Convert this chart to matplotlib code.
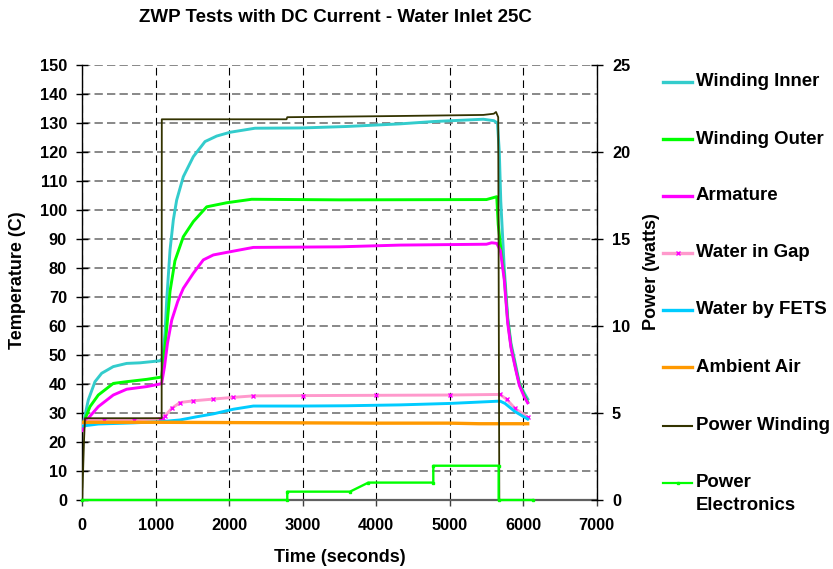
import matplotlib
matplotlib.use('Agg')
import matplotlib.pyplot as plt
from matplotlib.lines import Line2D

# ---------------- data ----------------
t_inner = [0, 15, 83, 174, 265, 423, 605, 786, 1058, 1095, 1127, 1150, 1195, 1240, 1285,
           1376, 1512, 1671, 1830, 2011, 2351, 3000, 3600, 4324, 4777, 5457, 5600, 5650,
           5675, 5695, 5742, 5789, 5834, 5902, 5948, 6016, 6061]
T_inner = [25, 26.4, 34.5, 40.8, 43.7, 46, 47.1, 47.3, 48, 49, 57.5, 69, 86.2, 96.6, 103.4,
           111.5, 118.4, 123.6, 125.5, 126.8, 128.2, 128.3, 128.8, 129.7, 130.5, 131.3, 130.8, 130,
           120, 103, 80, 63, 54, 46, 40.3, 36.8, 34.8]

t_outer = [0, 15, 106, 219, 423, 605, 877, 1058, 1080, 1110, 1135, 1195, 1262, 1376, 1512,
           1694, 1966, 2306, 3500, 5500, 5600, 5640, 5660, 5690, 5742, 5789, 5834, 5902,
           5948, 6016, 6061]
T_outer = [25, 26.4, 32.2, 36.2, 40.2, 40.8, 41.6, 42.3, 42.5, 49, 55, 72, 82.5, 90.8, 96,
           101.1, 102.5, 103.7, 103.5, 103.6, 104.3, 104.6, 95, 88, 77, 62, 53, 45,
           40, 36, 33.8]

t_arm = [0, 83, 219, 423, 605, 877, 1058, 1081, 1120, 1160, 1218, 1300, 1376, 1512, 1648,
         1784, 2011, 2328, 3500, 4324, 5500, 5571, 5640, 5690, 5742, 5789, 5834, 5902,
         5948, 6016, 6061]
T_arm = [24, 28.2, 32.2, 36.2, 38.2, 39.1, 40, 40.2, 46, 54, 62, 68.5, 73, 78.2, 82.8,
         84.5, 85.6, 87.1, 87.3, 87.9, 88.2, 88.7, 88.5, 86, 76, 61, 52.5, 44.5,
         39.5, 35.5, 33.5]

t_gap = [0, 40, 300, 700, 1058, 1100, 1127, 1218, 1330, 1512, 1784, 2056, 2328, 3000,
         4000, 5000, 5685, 5775, 5888, 6061]
T_gap = [25, 27.5, 27.6, 27.7, 28, 28.3, 29, 31.6, 33.6, 34.2, 34.8, 35.4, 35.9, 36,
         36.1, 36.2, 36.4, 34.7, 31.6, 28.5]

t_fets = [0, 220, 700, 1058, 1330, 1558, 1784, 2056, 2328, 3000, 3600, 4324, 5004, 5685,
          5752, 5888, 6061]
T_fets = [25.5, 26.2, 26.6, 27.0, 27.6, 28.7, 29.7, 31.3, 32.4, 32.4, 32.5, 32.8, 33.3, 34.1,
          33.3, 30.5, 27.9]

t_amb = [0, 1000, 2000, 3000, 4000, 5000, 5400, 6061]
T_amb = [26.8, 26.8, 26.7, 26.6, 26.5, 26.5, 26.3, 26.3]

t_pw = [0, 25, 38, 1081, 1083, 2780, 2790, 4324, 5457, 5600, 5630, 5660, 5675]
P_pw = [0, 3.45, 4.7, 4.7, 21.88, 21.88, 22.0, 22.07, 22.13, 22.2, 22.3, 22.0, 0]

t_pe = [0, 2790, 2790, 3644, 3893, 4777, 4777, 5666, 5666, 6130]
P_pe = [0, 0, 0.48, 0.48, 1.0, 1.0, 1.97, 1.97, 0, 0]

title = "ZWP Tests with DC Current - Water Inlet 25C"
x_ticks = [0, 1000, 2000, 3000, 4000, 5000, 6000, 7000]
y_ticks = list(range(0, 151, 10))
y2_ticks = [0, 5, 10, 15, 20, 25]
labels = ["Winding Inner", "Winding Outer", "Armature", "Water in Gap", "Water by FETS",
          "Ambient Air", "Power Winding", "Power\nElectronics"]
colors = ["#33CCCC", "#00FF00", "#FF00FF", "#FF99CC", "#00CCFF", "#FF9900", "#333300", "#00FF00"]

# ---------------- figure ----------------
plt.rcParams['font.family'] = ['Liberation Sans', 'DejaVu Sans']
plt.rcParams['font.weight'] = 'bold'
plt.rcParams['lines.scale_dashes'] = False

W, H = 833, 569
fig = plt.figure(figsize=(W / 100, H / 100), dpi=100)
L, R, T, B = 82.2, 596.7, 65, 500
ax = fig.add_axes([L / W, 1 - B / H, (R - L) / W, (B - T) / H])
ax2 = ax.twinx()

ax.set_xlim(0, 7000)
ax.set_ylim(0, 150)
ax2.set_ylim(0, 25)

# grid
ax.set_axisbelow(True)
ax.yaxis.grid(True, color='#7F7F7F', linestyle=(0, (6, 3)), linewidth=1.3)
ax.xaxis.grid(True, color='black', linestyle=(0, (5.5, 3.5)), linewidth=0.8)

lw = 2.1
ax.plot(t_inner, T_inner, color=colors[0], lw=lw, zorder=3)
ax.plot(t_outer, T_outer, color=colors[1], lw=lw, zorder=3)
ax.plot(t_arm, T_arm, color=colors[2], lw=lw, zorder=3)
ax.plot(t_gap, T_gap, color=colors[3], lw=lw, zorder=3, marker='x', ms=2.5,
        mec='#FF00FF', mew=1.0)
ax.plot(t_fets, T_fets, color=colors[4], lw=lw, zorder=3)
ax.plot(t_amb, T_amb, color=colors[5], lw=2.4, zorder=3)

ax2.plot(t_pw, P_pw, color=colors[6], lw=1.3, zorder=3)
ax2.plot(t_pe, P_pe, color=colors[7], lw=1.7, zorder=3, marker='s', ms=2.0,
         mec=colors[7], clip_on=False)

# spines
for s in ['top']:
    ax.spines[s].set_visible(False)
    ax2.spines[s].set_visible(False)
ax2.spines['bottom'].set_visible(False)
ax2.spines['left'].set_visible(False)
ax.spines['right'].set_visible(False)
ax.spines['left'].set_color('black')
ax.spines['left'].set_linewidth(1.0)
ax2.spines['right'].set_color('black')
ax2.spines['right'].set_linewidth(1.0)
ax.spines['bottom'].set_color('#606060')
ax.spines['bottom'].set_linewidth(1.6)

# ticks
ax.set_xticks(x_ticks)
ax.set_yticks(y_ticks)
ax2.set_yticks(y2_ticks)
tfont = 11.8
ax.tick_params(axis='y', direction='inout', length=8, width=1, pad=7, labelsize=tfont)
ax2.tick_params(axis='y', direction='inout', length=8, width=1, pad=7, labelsize=tfont)
ax.tick_params(axis='x', direction='out', length=4, width=1, pad=9, labelsize=tfont,
               color='#404040')
for lab in ax.get_xticklabels() + ax.get_yticklabels() + ax2.get_yticklabels():
    lab.set_fontweight('bold')

# texts
fig.text(335 / W, 1 - 18 / H, title, ha='center', va='center', fontsize=13.5, fontweight='bold')
fig.text(18 / W, 1 - 280 / H, "Temperature (C)", rotation=90, ha='center', va='center',
         fontsize=13, fontweight='bold')
fig.text(651 / W, 1 - 272 / H, "Power (watts)", rotation=90, ha='center', va='center',
         fontsize=13, fontweight='bold')
fig.text(340 / W, 1 - 557 / H, "Time (seconds)", ha='center', va='center',
         fontsize=13, fontweight='bold')

# legend (manual, to match layout)
leg_y = [81.7, 139, 195.7, 252.7, 310, 367.3, 425.7, 482.7]
leg_lw = [2.4, 2.4, 2.4, 2.4, 2.4, 2.4, 1.5, 1.6]
for i, (lab, c, y) in enumerate(zip(labels, colors, leg_y)):
    ln = Line2D([663 / W, 692 / W], [1 - y / H, 1 - y / H], transform=fig.transFigure,
                color=c, lw=leg_lw[i])
    fig.add_artist(ln)
    if i == 3:
        fig.add_artist(Line2D([677.5 / W], [1 - y / H], transform=fig.transFigure,
                              marker='x', ms=2.5, mec='#FF00FF', mew=1.0, ls='none'))
    if i == 7:
        fig.add_artist(Line2D([677.5 / W], [1 - y / H], transform=fig.transFigure,
                              marker='s', ms=2.0, mec=c, mfc=c, ls='none'))
    lines = lab.split("\n")
    for j, part in enumerate(lines):
        fig.text(696 / W, 1 - (y + 22.5 * j) / H, part, ha='left', va='center',
                 fontsize=13.4, fontweight='bold')

fig.savefig('out.png', dpi=100)
